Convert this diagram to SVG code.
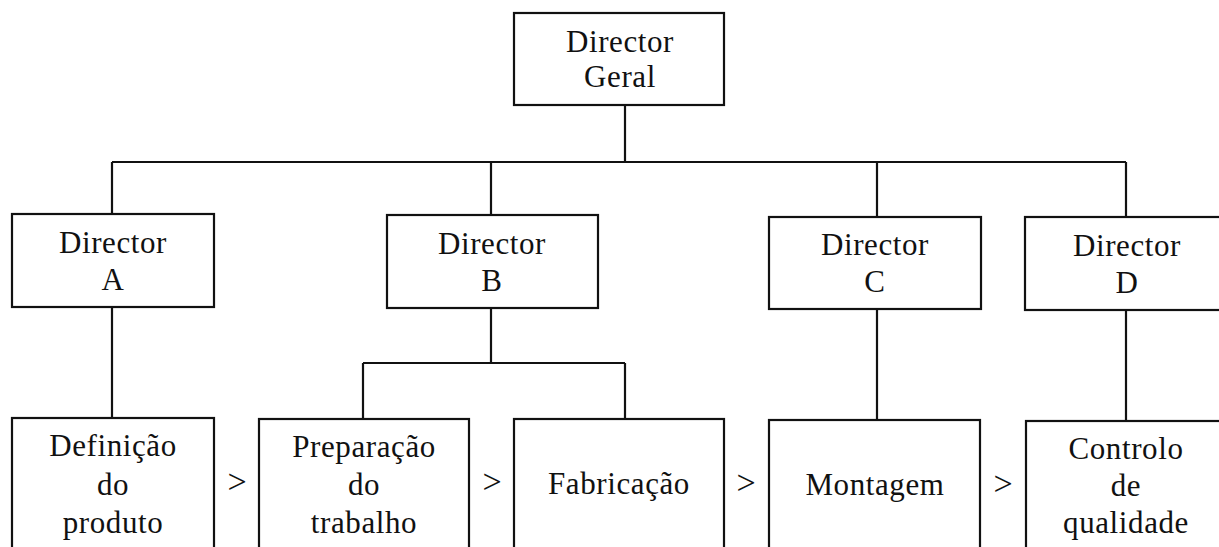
<svg xmlns="http://www.w3.org/2000/svg" width="1219" height="547" viewBox="0 0 1219 547">
<style>
.box{fill:#fff;stroke:#111;stroke-width:2.2}
.ln{fill:none;stroke:#111;stroke-width:2.2}
text{font-family:"Liberation Serif","Times New Roman",serif;font-size:31px;fill:#111;text-anchor:middle;letter-spacing:0.6px}
.gt{font-size:34px;letter-spacing:0}
</style>
<rect width="1219" height="547" fill="#fff"/>
<g id="connectors">
<path class="ln" d="M625 105V162M112 162H1126M112 162V214M491 162V215M877 162V217M1126 162V217"/>
<path class="ln" d="M112 307V418M491 308V363M363 363H625M363 363V419M625 363V419M877 309V420M1126 310V421"/>
</g>
<g id="director-geral"><rect class="box" x="514" y="13" width="210" height="92"/><text x="620" y="52">Director</text><text x="620" y="87">Geral</text></g>
<g id="director-a"><rect class="box" x="12" y="214" width="202" height="93"/><text x="113" y="253">Director</text><text x="113" y="290">A</text></g>
<g id="director-b"><rect class="box" x="387" y="215" width="211" height="93"/><text x="492" y="254">Director</text><text x="492" y="291">B</text></g>
<g id="director-c"><rect class="box" x="769" y="217" width="212" height="92"/><text x="875" y="255">Director</text><text x="875" y="292">C</text></g>
<g id="director-d"><rect class="box" x="1025" y="217" width="220" height="93"/><text x="1127" y="256">Director</text><text x="1127" y="293">D</text></g>
<g id="definicao"><rect class="box" x="12" y="418" width="202" height="150"/><text x="113" y="456">Definição</text><text x="113" y="495">do</text><text x="113" y="533">produto</text></g>
<g id="preparacao"><rect class="box" x="259" y="419" width="210" height="150"/><text x="364" y="457">Preparação</text><text x="364" y="495">do</text><text x="364" y="533">trabalho</text></g>
<g id="fabricacao"><rect class="box" x="514" y="419" width="210" height="150"/><text x="619" y="494">Fabricação</text></g>
<g id="montagem"><rect class="box" x="769" y="420" width="211" height="150"/><text x="875" y="495">Montagem</text></g>
<g id="controlo"><rect class="box" x="1026" y="421" width="220" height="150"/><text x="1126" y="459">Controlo</text><text x="1126" y="496">de</text><text x="1126" y="533">qualidade</text></g>
<g id="flow-marks">
<text class="gt" x="237" y="493">&gt;</text>
<text class="gt" x="492" y="493">&gt;</text>
<text class="gt" x="746" y="494">&gt;</text>
<text class="gt" x="1003" y="495">&gt;</text>
</g>
</svg>
